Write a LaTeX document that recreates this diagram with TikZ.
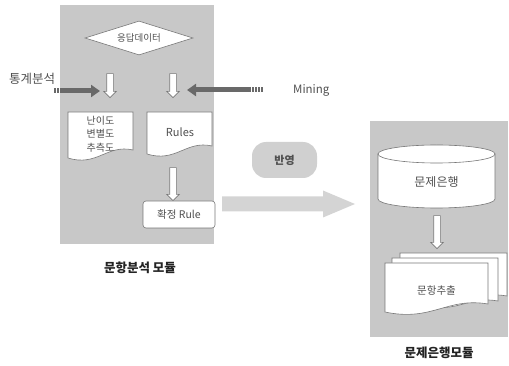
\documentclass[tikz,border=0pt]{standalone}
\usepackage{fontspec}
\setmainfont{Noto Sans CJK KR}
\usetikzlibrary{shapes.geometric,shapes.arrows,arrows.meta}
\definecolor{panelgray}{RGB}{200,200,200}
\definecolor{outline}{RGB}{120,120,120}
\definecolor{darkarrow}{RGB}{105,105,105}
\definecolor{bigarrow}{RGB}{212,212,212}
\definecolor{pillgray}{RGB}{208,208,208}
\definecolor{textgray}{RGB}{80,80,80}
\definecolor{labelcol}{RGB}{35,35,35}
\newcommand{\fsz}[1]{\fontsize{#1}{#1}\selectfont}
\begin{document}
\begin{tikzpicture}[x=1pt,y=-1pt,
  panel/.style={rectangle,fill=panelgray,inner sep=0pt},
  harrow/.style={single arrow,shape border rotate=270,draw=outline,fill=white,line width=0.6pt,
    single arrow head extend=3pt,inner sep=3pt},
  darkarr/.style={draw=darkarrow,line width=5pt,-{Triangle[length=9pt,width=12pt]}},
  darktail/.style={draw=darkarrow,line width=5pt,dash pattern=on 1.6pt off 1.4pt},
  docshape/.style={draw=outline,fill=white,line width=0.6pt},
  txt/.style={text=textgray,inner sep=0pt},
  modlabel/.style={text=labelcol,inner sep=0pt,font=\fsz{12.5}\bfseries}
]
\useasboundingbox (0,0) rectangle (509,366);

% panels
\node[panel,minimum width=154pt,minimum height=239pt] (lpanel) at (137,124.5) {};
\node[panel,minimum width=138pt,minimum height=216pt] (rpanel) at (439,229) {};

% response data diamond
\node[diamond,aspect=3.2,draw=outline,fill=white,line width=0.6pt,minimum width=108pt,minimum height=34pt,
  inner sep=0pt,text=textgray,font=\fsz{9.5}] (resp) at (139,38) {응답데이터};

% hollow arrows under diamond
\node[harrow,minimum height=24pt] (a1) at (110,84) {};
\node[harrow,minimum height=24pt] (a2) at (173,84) {};

% documents
\path[docshape] (68,112) -- (133,112) -- (133,150)
  .. controls (107,144) and (97,167) .. (68,158) -- cycle;
\node[txt,align=center,font=\fontsize{10}{13.5}\selectfont] (diff) at (100.5,134) {난이도\\변별도\\추측도};
\path[docshape] (147,112) -- (212,112) -- (212,146)
  .. controls (186,140) and (176,163) .. (147,154) -- cycle;
\node[txt,font=\fsz{11}] (rules) at (180,132) {Rules};

% arrow to confirmed rule
\node[harrow,minimum height=33pt] (a3) at (173,182.5) {};
\node[draw=outline,fill=white,line width=0.6pt,rounded corners=3pt,minimum width=72pt,minimum height=27pt,
  inner sep=0pt,text=textgray,font=\fsz{10.5}] (fixed) at (179,214.5) {확정 Rule};

% side inputs
\node[txt,anchor=west,font=\fsz{12.5}] (stat) at (9,79) {통계분석};
\coordinate (statsrc) at (61,91);
\coordinate (stattip) at (100,91);
\draw[darktail] (54,91) -- (statsrc);
\draw[darkarr] (statsrc) -- (stattip);

\node[txt,anchor=west,font=\fsz{11.5}] (mining) at (293,90) {Mining};
\coordinate (minesrc) at (250,90);
\coordinate (minetip) at (187,90);
\draw[darktail] (263,90) -- (minesrc);
\draw[darkarr] (minesrc) -- (minetip);

% module label left
\node[modlabel] (lmod) at (140,268) {문항분석 모듈};

% reflect pill and big arrow
\node[fill=pillgray,rounded corners=14pt,minimum width=65pt,minimum height=36pt,inner sep=0pt,
  text=textgray,font=\fsz{11}\bfseries] (apply) at (284.5,160) {반영};
\coordinate (flowstart) at (222,204);
\coordinate (flowtip) at (355,204);
\fill[bigarrow] (flowstart) ++(0,-7.5) -- ++(101,0) -- ++(0,-6) -- (flowtip)
  -- ++(-32,13.5) -- ++(0,-6) -- ++(-101,0) -- cycle;

% question bank cylinder
\path[docshape] (378,154) -- (378,199) arc[start angle=180,end angle=0,x radius=58.5,y radius=9] -- (495,154) -- cycle;
\path[docshape] (436.5,154) ellipse [x radius=58.5,y radius=9];
\node[txt,font=\fsz{12}] (bank) at (436.5,182) {문제은행};

\node[harrow,minimum height=33pt] (a4) at (437,230.5) {};

% multi-document
\path[docshape] (400,253) -- (507,253) -- (507,296)
  .. controls (480,291) and (470,306) .. (440,302) -- (400,302) -- cycle;
\path[docshape] (392,258) -- (498,258) -- (498,301)
  .. controls (470,296) and (460,311) .. (430,307) -- (392,307) -- cycle;
\path[docshape] (385,263) -- (488,263) -- (488,304)
  .. controls (447,297) and (432,322) .. (385,312) -- cycle;
\node[txt,font=\fsz{10.5}] (extract) at (436.5,291) {문항추출};

\node[modlabel] (rmod) at (439,353) {문제은행모듈};
\end{tikzpicture}
\end{document}
